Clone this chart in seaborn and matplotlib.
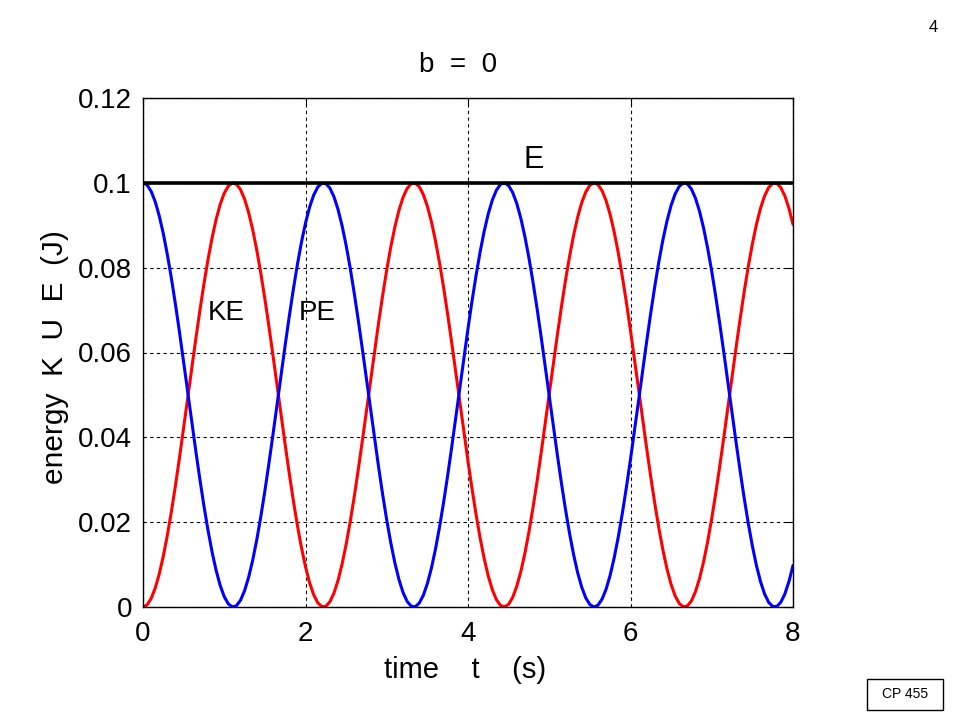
#!/usr/bin/env python3
"""Energy of an undamped oscillator (b = 0): kinetic, potential and total energy vs time."""

import matplotlib
matplotlib.use("Agg")
import matplotlib.pyplot as plt
from matplotlib.patches import Rectangle
import seaborn as sns

time_s = [0.00, 0.05, 0.10, 0.15, 0.20, 0.25, 0.30, 0.35, 0.40, 0.45,
          0.50, 0.55, 0.60, 0.65, 0.70, 0.75, 0.80, 0.85, 0.90, 0.95,
          1.00, 1.05, 1.10, 1.15, 1.20, 1.25, 1.30, 1.35, 1.40, 1.45,
          1.50, 1.55, 1.60, 1.65, 1.70, 1.75, 1.80, 1.85, 1.90, 1.95,
          2.00, 2.05, 2.10, 2.15, 2.20, 2.25, 2.30, 2.35, 2.40, 2.45,
          2.50, 2.55, 2.60, 2.65, 2.70, 2.75, 2.80, 2.85, 2.90, 2.95,
          3.00, 3.05, 3.10, 3.15, 3.20, 3.25, 3.30, 3.35, 3.40, 3.45,
          3.50, 3.55, 3.60, 3.65, 3.70, 3.75, 3.80, 3.85, 3.90, 3.95,
          4.00, 4.05, 4.10, 4.15, 4.20, 4.25, 4.30, 4.35, 4.40, 4.45,
          4.50, 4.55, 4.60, 4.65, 4.70, 4.75, 4.80, 4.85, 4.90, 4.95,
          5.00, 5.05, 5.10, 5.15, 5.20, 5.25, 5.30, 5.35, 5.40, 5.45,
          5.50, 5.55, 5.60, 5.65, 5.70, 5.75, 5.80, 5.85, 5.90, 5.95,
          6.00, 6.05, 6.10, 6.15, 6.20, 6.25, 6.30, 6.35, 6.40, 6.45,
          6.50, 6.55, 6.60, 6.65, 6.70, 6.75, 6.80, 6.85, 6.90, 6.95,
          7.00, 7.05, 7.10, 7.15, 7.20, 7.25, 7.30, 7.35, 7.40, 7.45,
          7.50, 7.55, 7.60, 7.65, 7.70, 7.75, 7.80, 7.85, 7.90, 7.95,
          8.00]

kinetic = [0.00000, 0.00050, 0.00199, 0.00443, 0.00779, 0.01199, 0.01695, 0.02256, 0.02873, 0.03532,
           0.04220, 0.04924, 0.05630, 0.06323, 0.06989, 0.07616, 0.08190, 0.08701, 0.09138, 0.09492,
           0.09757, 0.09926, 0.09998, 0.09969, 0.09841, 0.09617, 0.09300, 0.08898, 0.08418, 0.07869,
           0.07263, 0.06612, 0.05929, 0.05227, 0.04521, 0.03824, 0.03151, 0.02515, 0.01928, 0.01403,
           0.00949, 0.00576, 0.00292, 0.00102, 0.00009, 0.00016, 0.00123, 0.00327, 0.00624, 0.01009,
           0.01473, 0.02008, 0.02603, 0.03245, 0.03922, 0.04621, 0.05328, 0.06028, 0.06707, 0.07353,
           0.07951, 0.08490, 0.08960, 0.09351, 0.09655, 0.09866, 0.09979, 0.09994, 0.09908, 0.09725,
           0.09447, 0.09081, 0.08633, 0.08112, 0.07529, 0.06896, 0.06225, 0.05530, 0.04824, 0.04121,
           0.03436, 0.02782, 0.02173, 0.01620, 0.01134, 0.00726, 0.00403, 0.00172, 0.00037, 0.00001,
           0.00065, 0.00228, 0.00486, 0.00834, 0.01265, 0.01771, 0.02341, 0.02964, 0.03628, 0.04320,
           0.05025, 0.05729, 0.06419, 0.07081, 0.07701, 0.08267, 0.08768, 0.09194, 0.09535, 0.09787,
           0.09943, 0.10000, 0.09957, 0.09815, 0.09577, 0.09248, 0.08834, 0.08344, 0.07786, 0.07173,
           0.06517, 0.05830, 0.05127, 0.04421, 0.03727, 0.03058, 0.02428, 0.01849, 0.01333, 0.00891,
           0.00530, 0.00259, 0.00083, 0.00004, 0.00025, 0.00146, 0.00364, 0.00674, 0.01070, 0.01545,
           0.02089, 0.02691, 0.03340, 0.04021, 0.04722, 0.05428, 0.06126, 0.06801, 0.07441, 0.08032,
           0.08562, 0.09021, 0.09400, 0.09691, 0.09888, 0.09987, 0.09988, 0.09888, 0.09691, 0.09400,
           0.09022]

potential = [0.10000, 0.09950, 0.09801, 0.09557, 0.09221, 0.08801, 0.08305, 0.07744, 0.07127, 0.06468,
             0.05780, 0.05076, 0.04370, 0.03677, 0.03011, 0.02384, 0.01810, 0.01299, 0.00862, 0.00508,
             0.00243, 0.00074, 0.00002, 0.00031, 0.00159, 0.00383, 0.00700, 0.01102, 0.01582, 0.02131,
             0.02737, 0.03388, 0.04071, 0.04773, 0.05479, 0.06176, 0.06849, 0.07485, 0.08072, 0.08597,
             0.09051, 0.09424, 0.09708, 0.09898, 0.09991, 0.09984, 0.09877, 0.09673, 0.09376, 0.08991,
             0.08527, 0.07992, 0.07397, 0.06755, 0.06078, 0.05379, 0.04672, 0.03972, 0.03293, 0.02647,
             0.02049, 0.01510, 0.01040, 0.00649, 0.00345, 0.00134, 0.00021, 0.00006, 0.00092, 0.00275,
             0.00553, 0.00919, 0.01367, 0.01888, 0.02471, 0.03104, 0.03775, 0.04470, 0.05176, 0.05879,
             0.06564, 0.07218, 0.07827, 0.08380, 0.08866, 0.09274, 0.09597, 0.09828, 0.09963, 0.09999,
             0.09935, 0.09772, 0.09514, 0.09166, 0.08735, 0.08229, 0.07659, 0.07036, 0.06372, 0.05680,
             0.04975, 0.04271, 0.03581, 0.02919, 0.02299, 0.01733, 0.01232, 0.00806, 0.00465, 0.00213,
             0.00057, 0.00000, 0.00043, 0.00185, 0.00423, 0.00752, 0.01166, 0.01656, 0.02214, 0.02827,
             0.03483, 0.04170, 0.04873, 0.05579, 0.06273, 0.06942, 0.07572, 0.08151, 0.08667, 0.09109,
             0.09470, 0.09741, 0.09917, 0.09996, 0.09975, 0.09854, 0.09636, 0.09326, 0.08930, 0.08455,
             0.07911, 0.07309, 0.06660, 0.05979, 0.05278, 0.04572, 0.03874, 0.03199, 0.02559, 0.01968,
             0.01438, 0.00979, 0.00600, 0.00309, 0.00112, 0.00013, 0.00012, 0.00112, 0.00309, 0.00600,
             0.00978]

total_time = [0.0, 8.0]
total_energy = [0.1, 0.1]

x_ticks = [0, 2, 4, 6, 8]
y_ticks = [0, 0.02, 0.04, 0.06, 0.08, 0.1, 0.12]
y_tick_labels = ["0", "0.02", "0.04", "0.06", "0.08", "0.1", "0.12"]


def main():
    sns.set_style("white")
    plt.rcParams["font.family"] = ["Liberation Sans", "DejaVu Sans"]
    plt.rcParams["text.color"] = "black"
    plt.rcParams["axes.labelcolor"] = "black"
    plt.rcParams["xtick.color"] = "black"
    plt.rcParams["ytick.color"] = "black"

    fig = plt.figure(figsize=(9.6, 7.2), dpi=100)
    ax = fig.add_axes([143 / 960, 113 / 720, 650 / 960, 509 / 720])

    sns.lineplot(x=time_s, y=kinetic, color="#ff0000", linewidth=2.2, ax=ax, legend=False)
    sns.lineplot(x=time_s, y=potential, color="#0000ff", linewidth=2.2, ax=ax, legend=False)
    sns.lineplot(x=total_time, y=total_energy, color="black", linewidth=2.6, ax=ax, legend=False)

    ax.set_xlim(0, 8)
    ax.set_ylim(0, 0.12)
    ax.set_xticks(x_ticks)
    ax.set_xticklabels([str(v) for v in x_ticks])
    ax.set_yticks(y_ticks)
    ax.set_yticklabels(y_tick_labels)
    ax.tick_params(axis="both", direction="in", length=5, width=0.8, labelsize=20,
                   top=True, right=True, color="black", labelcolor="black")
    ax.tick_params(axis="x", pad=10)
    ax.tick_params(axis="y", pad=8)

    ax.grid(True, color="black", linestyle=(0, (3, 3)), linewidth=0.8)
    ax.set_axisbelow(True)
    for spine in ax.spines.values():
        spine.set_color("black")
        spine.set_linewidth(1.0)

    ax.set_xlabel("")
    ax.set_ylabel("")

    # Curve labels
    ax.text(4.81, 0.1035, "E", fontsize=22, color="black", ha="center", va="baseline")
    ax.text(1.02, 0.0677, "KE", fontsize=20, color="black", ha="center", va="baseline")
    ax.text(2.14, 0.0677, "PE", fontsize=20, color="black", ha="center", va="baseline")

    # Title and axis labels
    ax.text(0.484, 1.0 + 26 / 509, "b  =  0", fontsize=20, color="black", ha="center",
            va="baseline", transform=ax.transAxes)
    fig.text(465 / 960, 42 / 720, "time    t    (s)", fontsize=21, color="black",
             ha="center", va="baseline")
    fig.text(55 / 960, 1 - 357 / 720, "energy  K  U  E  (J)", fontsize=21.5, color="black",
             rotation=90, ha="center", va="center")

    # Slide decorations
    fig.text(933 / 960, 1 - 28 / 720, "4", fontsize=12, color="black", ha="center", va="center")
    fig.patches.append(Rectangle((867 / 960, 1 - 710 / 720), 76 / 960, 31 / 720,
                                 transform=fig.transFigure, fill=False,
                                 edgecolor="black", linewidth=1.0))
    fig.text(905 / 960, 1 - 694 / 720, "CP 455", fontsize=10, color="black",
             ha="center", va="center")

    fig.savefig("out.png", dpi=100)


if __name__ == "__main__":
    main()
